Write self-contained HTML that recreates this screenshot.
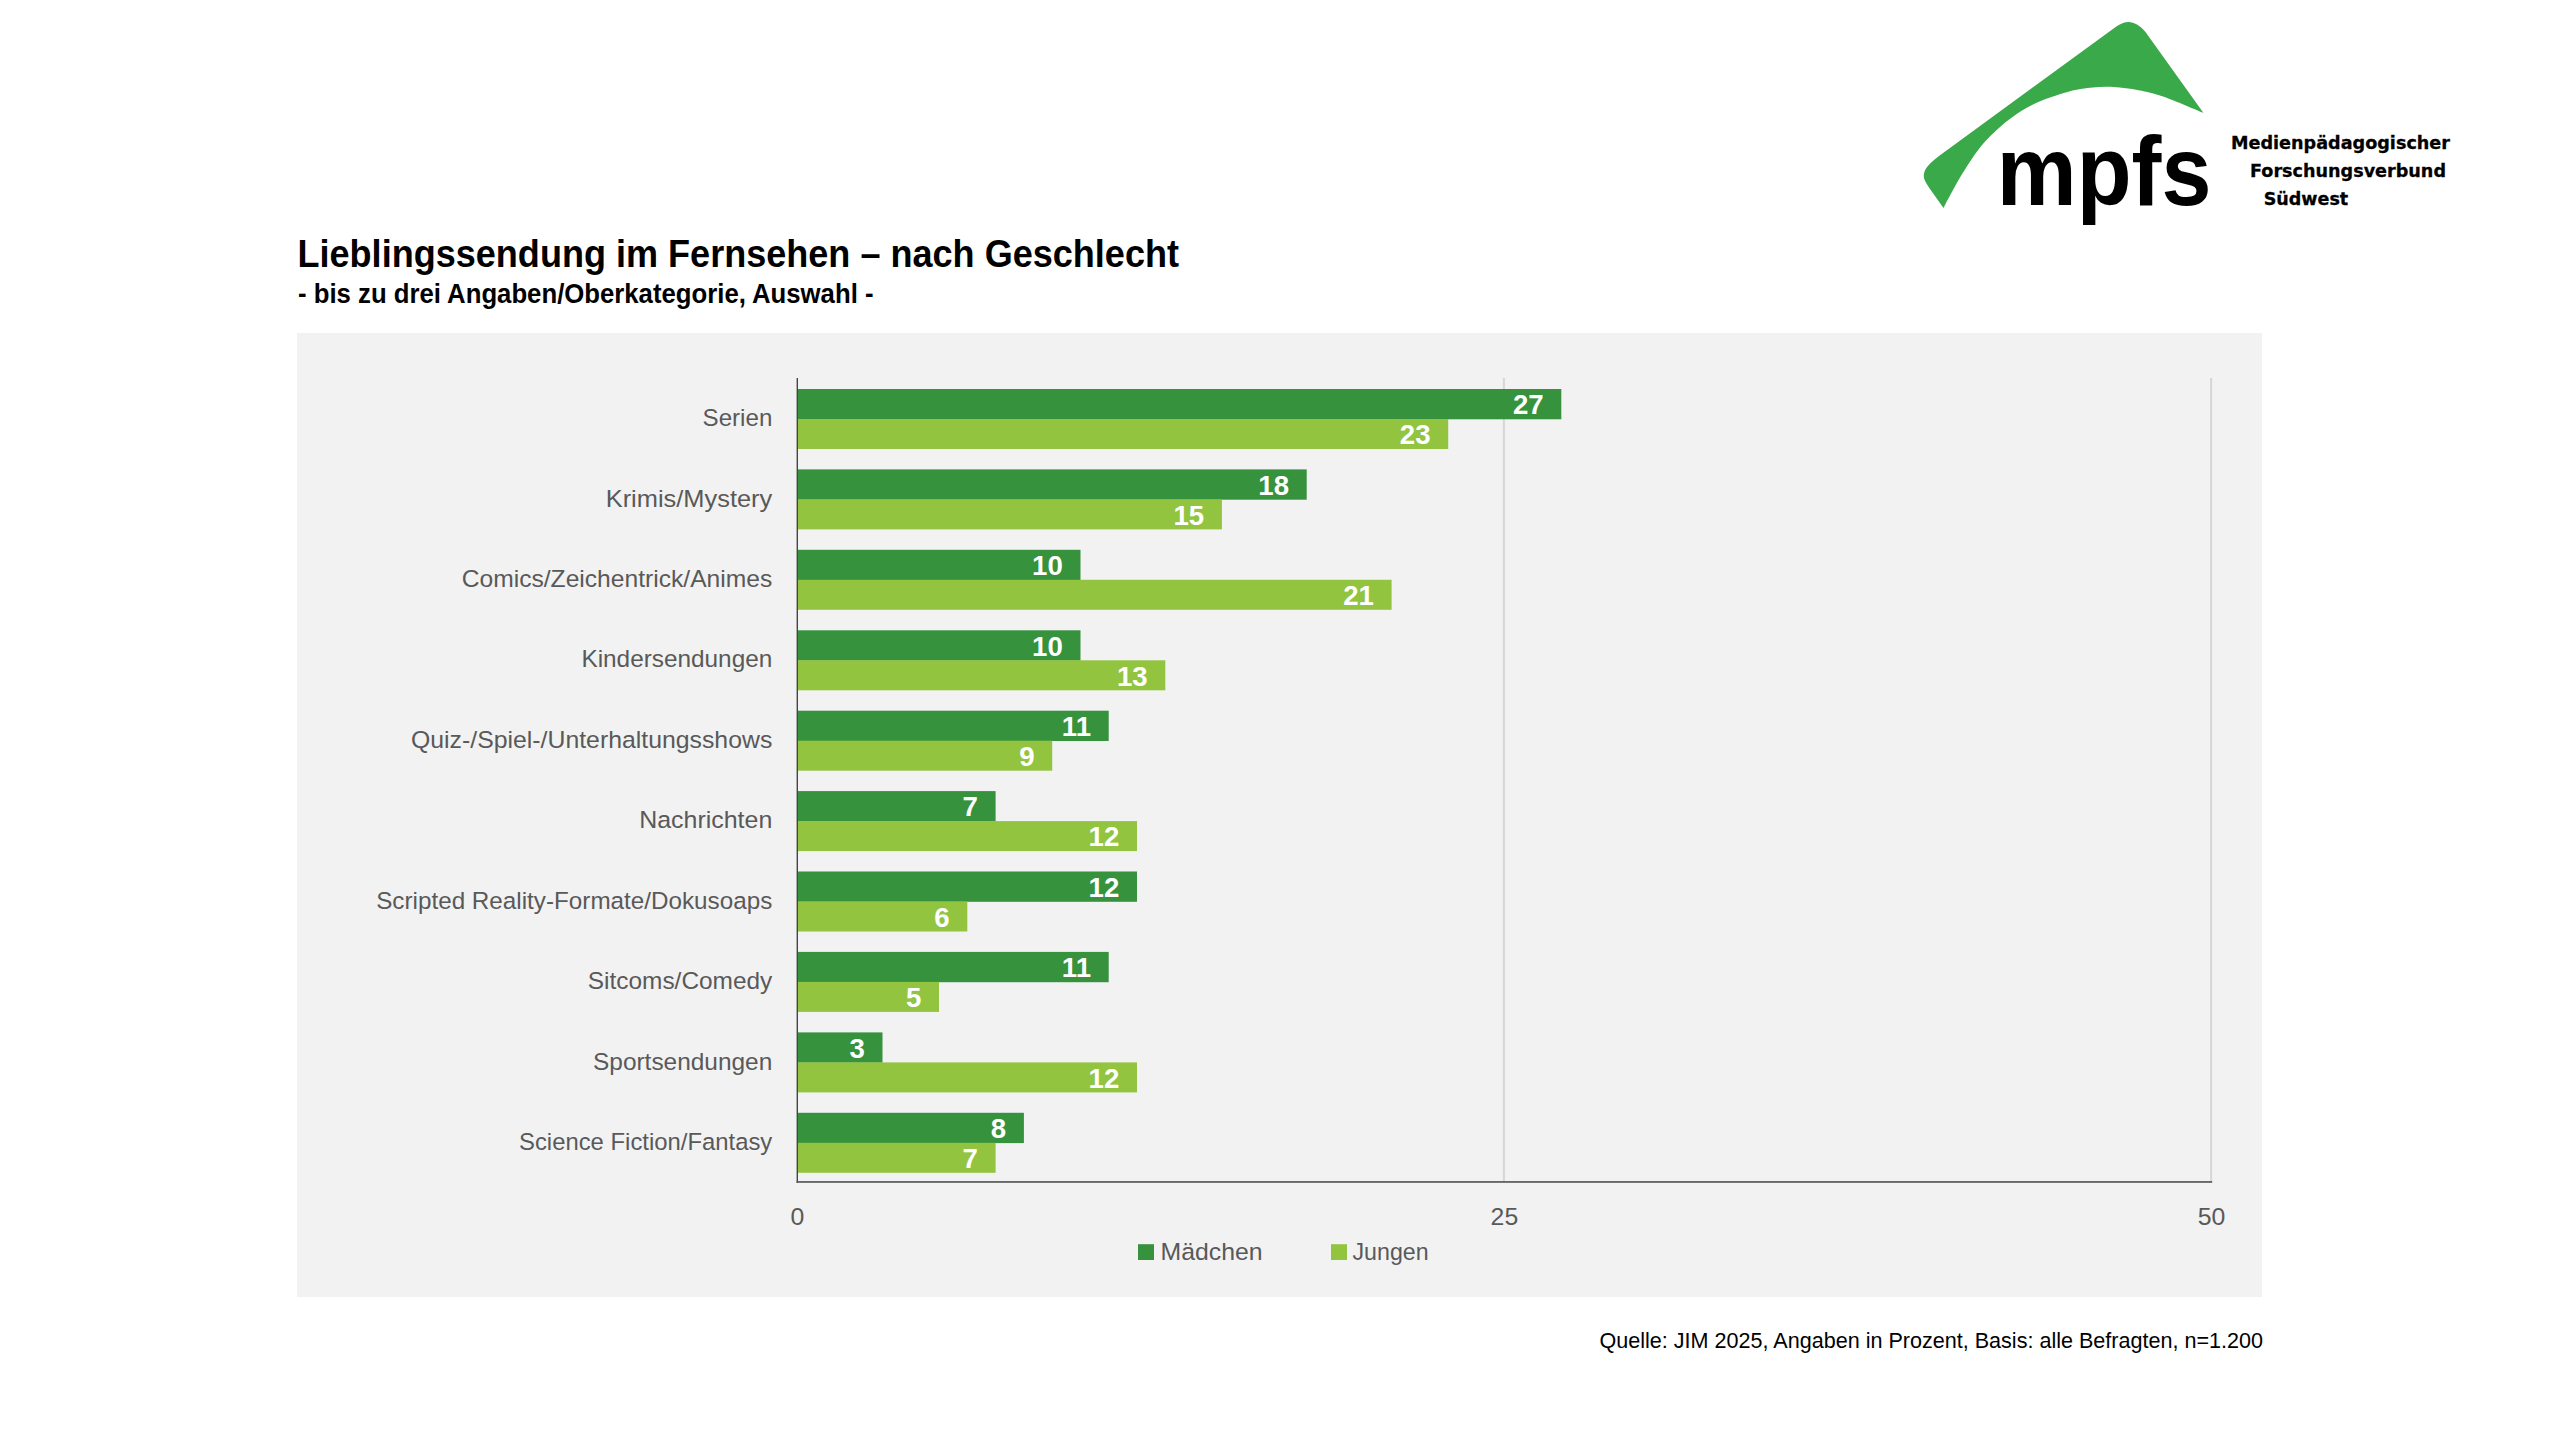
<!DOCTYPE html>
<html lang="de">
<head>
<meta charset="utf-8">
<title>Lieblingssendung im Fernsehen – nach Geschlecht</title>
<style>
html,body{margin:0;padding:0;background:#fff;}
body{width:2560px;height:1433px;overflow:hidden;position:relative;font-family:"Liberation Sans",sans-serif;}
svg{position:absolute;left:0;top:0;display:block;}
text{font-family:"Liberation Sans",sans-serif;}
.cat{font-size:24.5px;fill:#595959;text-anchor:end;}
.ax{font-size:24.8px;fill:#595959;text-anchor:middle;}
.val{font-size:27.6px;font-weight:bold;fill:#fff;text-anchor:end;}
.leg{font-size:24.5px;fill:#595959;}
.logo2{font-family:"DejaVu Sans",sans-serif;font-weight:bold;font-size:17.8px;fill:#000;stroke:#000;stroke-width:0.3px;}
</style>
</head>
<body>
<svg width="2560" height="1433" viewBox="0 0 2560 1433">
<rect x="0" y="0" width="2560" height="1433" fill="#ffffff"/>
<g id="logo">
<path d="M2116,26.8 C2120.5,23.5 2124.5,22 2128.6,22 C2134,22 2140,25.5 2145.3,31.8 L2203.5,113 C2196.9,110.3 2174.6,100.6 2163.8,96.8 C2153.0,93.0 2147.0,91.8 2138.6,90.2 C2130.2,88.6 2121.6,87.4 2113.5,87.0 C2105.4,86.6 2097.7,87.0 2090.0,87.8 C2082.3,88.6 2076.8,89.4 2067.5,92.1 C2058.2,94.8 2043.5,99.5 2034.0,103.9 C2024.5,108.3 2017.2,113.6 2010.5,118.4 C2003.8,123.2 1998.7,128.1 1993.8,132.7 C1988.9,137.3 1985.4,140.9 1981.2,146.1 C1977.0,151.3 1972.1,158.5 1968.6,163.7 C1965.1,168.9 1963.1,172.4 1960.3,177.1 C1957.5,181.8 1954.7,186.9 1951.9,192.1 C1949.1,197.2 1944.9,205.3 1943.5,208.0 L1929.3,187.9 C1925.5,182.5 1923.5,179 1923.8,175.4 C1924.2,168.5 1929,163.5 1940,155.2 Z" fill="#39A94A"/>
<text x="1996.8" y="204.7" font-size="99" font-weight="bold" fill="#000" textLength="214.7" lengthAdjust="spacingAndGlyphs">mpfs</text>
<text class="logo2" x="2231" y="149.3" textLength="219" lengthAdjust="spacingAndGlyphs">Medienpädagogischer</text>
<text class="logo2" x="2250" y="177" textLength="196" lengthAdjust="spacingAndGlyphs">Forschungsverbund</text>
<text class="logo2" x="2263.7" y="205" textLength="84.5" lengthAdjust="spacingAndGlyphs">Südwest</text>
</g>
<text x="297.5" y="267.2" font-size="39.7" font-weight="bold" fill="#000" textLength="881.5" lengthAdjust="spacingAndGlyphs">Lieblingssendung im Fernsehen – nach Geschlecht</text>
<text x="298" y="302.9" font-size="27.3" font-weight="bold" fill="#000" textLength="575.5" lengthAdjust="spacingAndGlyphs">- bis zu drei Angaben/Oberkategorie, Auswahl -</text>
<rect x="297" y="333" width="1965" height="964" fill="#F2F2F2"/>
<rect x="1502.9" y="378" width="2" height="804" fill="#D6D6D6"/>
<rect x="2210.1" y="378" width="2" height="804" fill="#D6D6D6"/>
<rect x="797.3" y="389.0" width="764.0" height="30.3" fill="#36923C"/><rect x="797.3" y="419.0" width="650.9" height="30.0" fill="#92C440"/>
<text class="val" x="1543.6" y="414.2">27</text><text class="val" x="1430.5" y="444.2">23</text>
<text class="cat" x="772.3" y="426.2" textLength="69.7" lengthAdjust="spacingAndGlyphs">Serien</text>
<rect x="797.3" y="469.4" width="509.4" height="30.3" fill="#36923C"/><rect x="797.3" y="499.4" width="424.6" height="30.0" fill="#92C440"/>
<text class="val" x="1289.0" y="494.6">18</text><text class="val" x="1204.2" y="524.6">15</text>
<text class="cat" x="772.3" y="506.6" textLength="166.6" lengthAdjust="spacingAndGlyphs">Krimis/Mystery</text>
<rect x="797.3" y="549.8" width="283.2" height="30.3" fill="#36923C"/><rect x="797.3" y="579.8" width="594.3" height="30.0" fill="#92C440"/>
<text class="val" x="1062.8" y="575.0">10</text><text class="val" x="1373.9" y="605.0">21</text>
<text class="cat" x="772.3" y="587.0" textLength="310.6" lengthAdjust="spacingAndGlyphs">Comics/Zeichentrick/Animes</text>
<rect x="797.3" y="630.3" width="283.2" height="30.3" fill="#36923C"/><rect x="797.3" y="660.3" width="368.0" height="30.0" fill="#92C440"/>
<text class="val" x="1062.8" y="655.5">10</text><text class="val" x="1147.6" y="685.5">13</text>
<text class="cat" x="772.3" y="667.4" textLength="190.9" lengthAdjust="spacingAndGlyphs">Kindersendungen</text>
<rect x="797.3" y="710.7" width="311.4" height="30.3" fill="#36923C"/><rect x="797.3" y="740.7" width="254.9" height="30.0" fill="#92C440"/>
<text class="val" x="1091.0" y="735.9">11</text><text class="val" x="1034.5" y="765.9">9</text>
<text class="cat" x="772.3" y="747.8" textLength="361.3" lengthAdjust="spacingAndGlyphs">Quiz-/Spiel-/Unterhaltungsshows</text>
<rect x="797.3" y="791.1" width="198.3" height="30.3" fill="#36923C"/><rect x="797.3" y="821.1" width="339.7" height="30.0" fill="#92C440"/>
<text class="val" x="977.9" y="816.3">7</text><text class="val" x="1119.3" y="846.3">12</text>
<text class="cat" x="772.3" y="828.2" textLength="133.1" lengthAdjust="spacingAndGlyphs">Nachrichten</text>
<rect x="797.3" y="871.5" width="339.7" height="30.3" fill="#36923C"/><rect x="797.3" y="901.5" width="170.0" height="30.0" fill="#92C440"/>
<text class="val" x="1119.3" y="896.7">12</text><text class="val" x="949.6" y="926.7">6</text>
<text class="cat" x="772.3" y="908.7" textLength="396.1" lengthAdjust="spacingAndGlyphs">Scripted Reality-Formate/Dokusoaps</text>
<rect x="797.3" y="951.9" width="311.4" height="30.3" fill="#36923C"/><rect x="797.3" y="981.9" width="141.7" height="30.0" fill="#92C440"/>
<text class="val" x="1091.0" y="977.1">11</text><text class="val" x="921.3" y="1007.1">5</text>
<text class="cat" x="772.3" y="989.1" textLength="184.5" lengthAdjust="spacingAndGlyphs">Sitcoms/Comedy</text>
<rect x="797.3" y="1032.4" width="85.2" height="30.3" fill="#36923C"/><rect x="797.3" y="1062.4" width="339.7" height="30.0" fill="#92C440"/>
<text class="val" x="864.8" y="1057.6">3</text><text class="val" x="1119.3" y="1087.6">12</text>
<text class="cat" x="772.3" y="1069.5" textLength="179.3" lengthAdjust="spacingAndGlyphs">Sportsendungen</text>
<rect x="797.3" y="1112.8" width="226.6" height="30.3" fill="#36923C"/><rect x="797.3" y="1142.8" width="198.3" height="30.0" fill="#92C440"/>
<text class="val" x="1006.2" y="1138.0">8</text><text class="val" x="977.9" y="1168.0">7</text>
<text class="cat" x="772.3" y="1149.9" textLength="253.3" lengthAdjust="spacingAndGlyphs">Science Fiction/Fantasy</text>
<rect x="796.6" y="378" width="1.4" height="804.8" fill="#454545"/>
<rect x="796.5" y="1181.1" width="1415.7" height="1.7" fill="#595959"/>
<text class="ax" x="797.3" y="1224.7">0</text>
<text class="ax" x="1504.4" y="1224.7">25</text>
<text class="ax" x="2211.6" y="1224.7">50</text>
<rect x="1138" y="1244.2" width="16" height="15.8" fill="#36923C"/>
<text class="leg" x="1160.5" y="1260" textLength="102.1" lengthAdjust="spacingAndGlyphs">Mädchen</text>
<rect x="1331" y="1244.2" width="16" height="15.8" fill="#92C440"/>
<text class="leg" x="1352.5" y="1260" textLength="76.1" lengthAdjust="spacingAndGlyphs">Jungen</text>
<text x="2263" y="1348.4" font-size="22.1" fill="#000" text-anchor="end" textLength="663.5" lengthAdjust="spacingAndGlyphs">Quelle: JIM 2025, Angaben in Prozent, Basis: alle Befragten, n=1.200</text>
</svg>
</body>
</html>
